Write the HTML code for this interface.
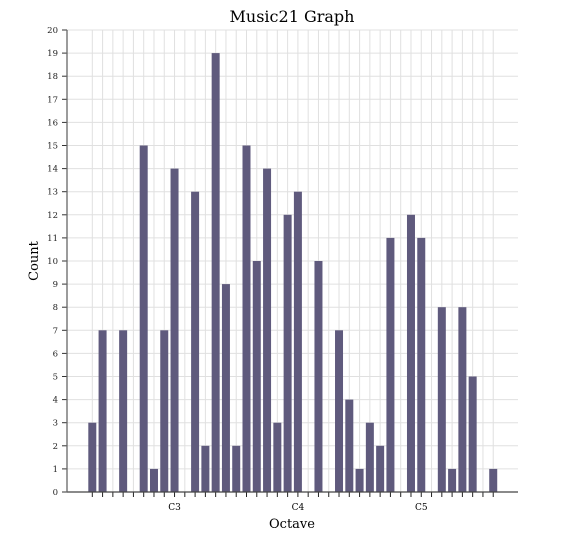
<!DOCTYPE html>
<html><head><meta charset="utf-8"><style>
body{margin:0;background:#fff}
svg{display:block;font-family:"DejaVu Serif","Liberation Serif",serif}
</style></head><body>
<svg id="c" width="581" height="542">
<text x="292" y="22" text-anchor="middle" font-size="16" fill="#000">Music21 Graph</text>
<text x="292" y="528" text-anchor="middle" font-size="13">Octave</text>
<text transform="translate(38,261) rotate(-90)" text-anchor="middle" font-size="13">Count</text>
<g id="grid"></g><g id="bars"></g><g id="axes"></g>
</svg>
<script>
const counts=[3,7,0,7,0,15,1,7,14,0,13,2,19,9,2,15,10,14,3,12,13,0,10,0,7,4,1,3,2,11,0,12,11,0,8,1,8,5,0,1];
const octaveLabels=["C3","C4","C5"];
const octaveIndex=[8,20,32];
const yTicks=[0,1,2,3,4,5,6,7,8,9,10,11,12,13,14,15,16,17,18,19,20];
const NS="http://www.w3.org/2000/svg";
const L=67,R=518,T=30,B=492,yMax=20;
const x=i=>92.3+i*10.28;
const y=v=>B-(v/yMax)*(B-T);
function mk(t,a,p){const e=document.createElementNS(NS,t);for(const k in a)e.setAttribute(k,a[k]);p.appendChild(e);return e;}
const g=document.getElementById('grid'),b=document.getElementById('bars'),ax=document.getElementById('axes');
yTicks.forEach(v=>{
 const l=mk('line',{x1:L,x2:R,y1:y(v),y2:y(v),stroke:'#e0e0e0','stroke-width':1},g);
 
 
 const tk=mk('line',{x1:L-5,x2:L,y1:y(v),y2:y(v),stroke:'#333'},ax);
 
 
 const t=mk('text',{x:L-9,y:y(v)+3,'text-anchor':'end','font-size':8.5,fill:'#222'},ax);
 t.textContent=v;
 
 
});
counts.forEach((c,i)=>{
 const l=mk('line',{x1:x(i),x2:x(i),y1:T,y2:B,stroke:'#e0e0e0','stroke-width':1},g);
 
 
 if(c>0){
  const r=mk('rect',{x:x(i)-4,y:y(c),width:8,height:B-y(c),fill:'#5f5a7d'},b);
  
  
 }
 const tk=mk('line',{x1:x(i),x2:x(i),y1:B,y2:B+5,stroke:'#222'},ax);
 
 
});
octaveLabels.forEach((s,k)=>{
 const t=mk('text',{x:x(octaveIndex[k]),y:B+18,'text-anchor':'middle','font-size':9},ax);
 t.textContent=s;
 
 
});
const s1=mk('line',{x1:L,x2:R,y1:B,y2:B,stroke:'#444','stroke-width':1.3},ax);


const s2=mk('line',{x1:L,x2:L,y1:T,y2:B,stroke:'#666','stroke-width':1.3},ax);


</script>
</body></html>
